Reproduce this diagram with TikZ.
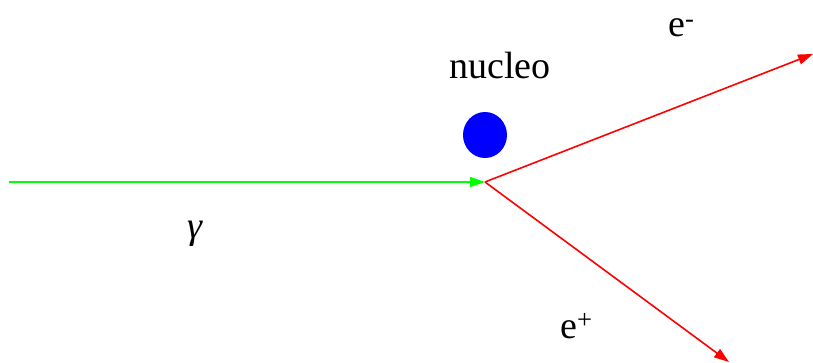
\documentclass[tikz,border=0pt]{standalone}
\usepackage{fontspec}
\setmainfont{Liberation Serif}
\usetikzlibrary{arrows.meta}

\begin{document}
\begin{tikzpicture}[
            x={(1pt,0pt)},
            y={(0pt,-1pt)},
            ray/.style={line width=1.6pt, -{Triangle[length=15pt, width=10pt]}},
            label/.style={inner sep=0pt, anchor=base west, font=\fontsize{38}{44}\selectfont}
        ]
        \useasboundingbox (0,0) rectangle (813,363);
        \coordinate (S) at (9,182);
        \coordinate (V) at (485,182);
        \coordinate (Em) at (813,54);
        \coordinate (Ep) at (729,362);
        \coordinate (N) at (485,135);

        \fill[blue] (N) ellipse (22 and 23);
        \draw[ray, green] (S) -- (V);
        \draw[ray, red] (V) -- (Em);
        \draw[ray, red] (V) -- (Ep);
        \node[label] (nucleo) at (449,79) {nucleo};
        \node[label] (eminus) at (668,37) {e\textsuperscript{-}};
        \node[label] (eplus) at (560,338) {e\textsuperscript{+}};
        \node[label] (gamma) at (187,239) {\textit{γ}};
    \end{tikzpicture}
\end{document}
